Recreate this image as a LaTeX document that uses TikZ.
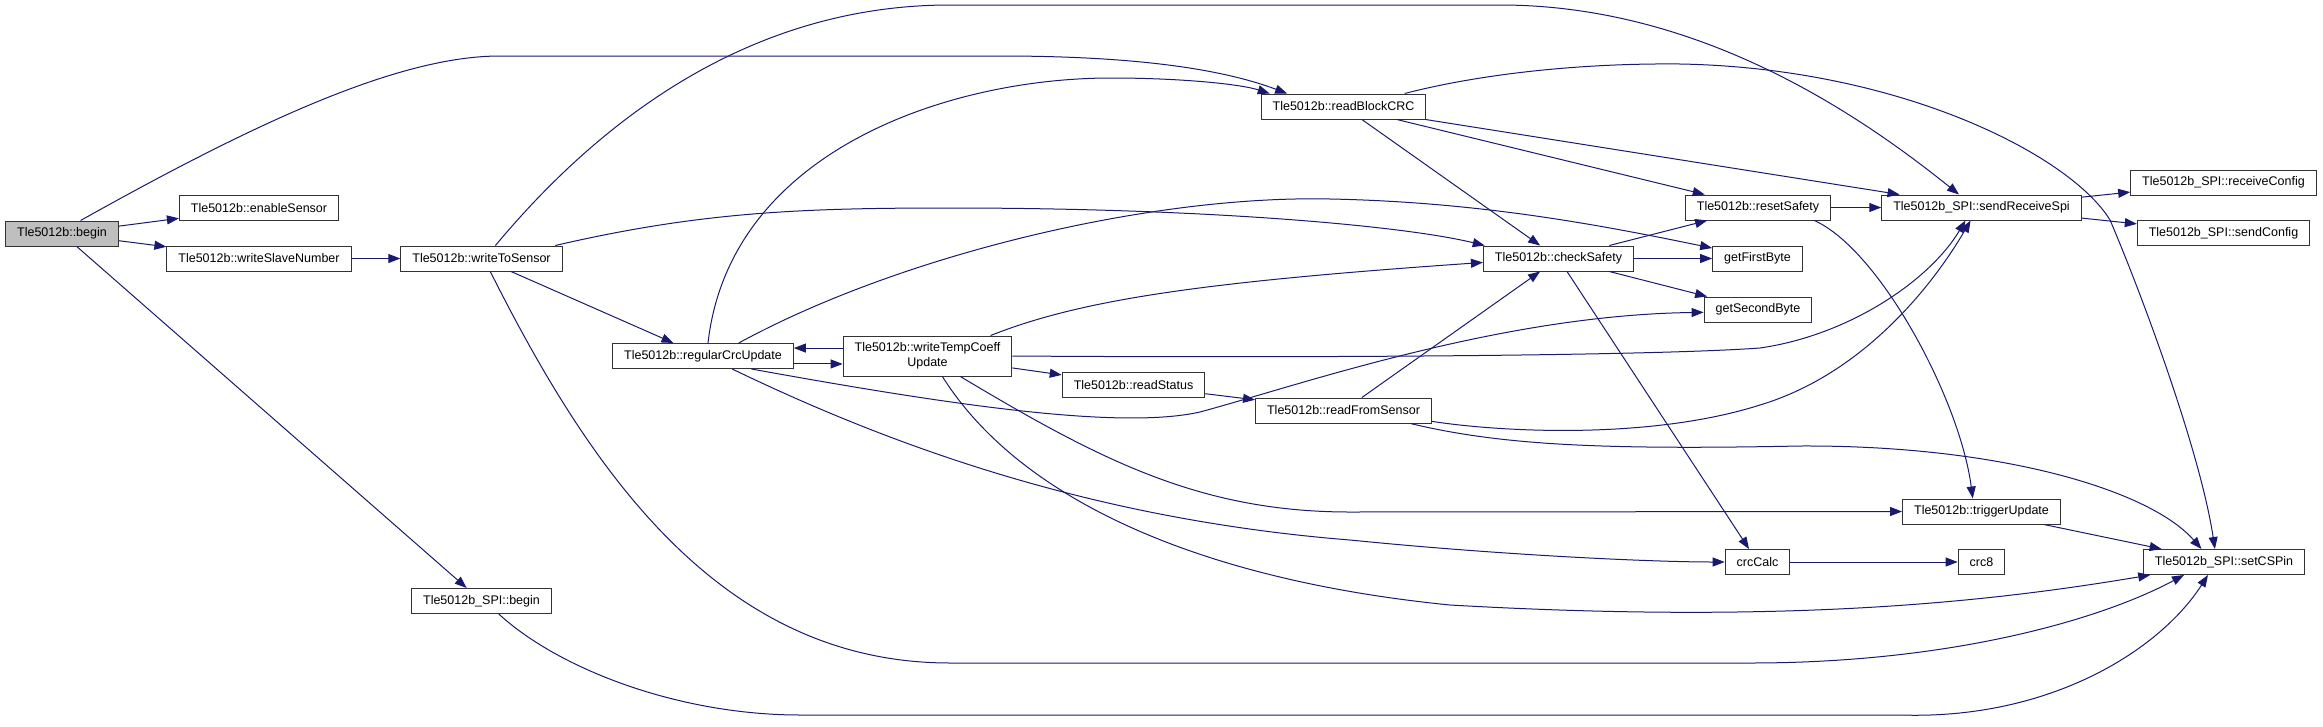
\documentclass[tikz,border=0pt]{standalone}
\usepackage{fontspec}
\setmainfont{Liberation Sans}
\usepackage{xcolor}
\usepackage{tikz}
\usetikzlibrary{arrows.meta}
\definecolor{edgeblue}{HTML}{191970}
\definecolor{framegray}{HTML}{333333}
\definecolor{rootgray}{HTML}{BFBFBF}

\begin{document}
\begin{tikzpicture}[
    x=1pt, y=-1pt,
    func/.style={rectangle, draw=framegray, fill=white, line width=1pt, align=center, minimum height=25pt, inner xsep=11.5pt, inner ysep=3pt, font=\fontsize{12.5}{15}\selectfont},
    rootfunc/.style={func, fill=rootgray},
    call/.style={-{Triangle[length=12pt, width=9pt]}, line width=1pt, color=edgeblue}
]
\useasboundingbox (0,0) rectangle (2323,726);

\node[rootfunc] (begin) at (62,233.5) {Tle5012b::begin};
\node[func] (enableSensor) at (259,208) {Tle5012b::enableSensor};
\node[func] (writeSlaveNumber) at (259,258.5) {Tle5012b::writeSlaveNumber};
\node[func] (writeToSensor) at (481.5,258.5) {Tle5012b::writeToSensor};
\node[func] (spiBegin) at (481.5,601) {Tle5012b\_SPI::begin};
\node[func] (regularCrcUpdate) at (703,356) {Tle5012b::regularCrcUpdate};
\node[func, minimum height=40pt] (writeTempCoeffUpdate) at (927.5,356) {\begin{tabular}{@{}c@{}}Tle5012b::writeTempCoeff\\Update\end{tabular}};
\node[func] (readStatus) at (1133.5,385) {Tle5012b::readStatus};
\node[func] (readFromSensor) at (1343.5,410.5) {Tle5012b::readFromSensor};
\node[func] (readBlockCRC) at (1343.5,106.5) {Tle5012b::readBlockCRC};
\node[func] (checkSafety) at (1558.5,258.5) {Tle5012b::checkSafety};
\node[func] (resetSafety) at (1758,207.5) {Tle5012b::resetSafety};
\node[func] (getFirstByte) at (1757.5,258.5) {getFirstByte};
\node[func] (getSecondByte) at (1758,309.5) {getSecondByte};
\node[func] (sendReceiveSpi) at (1981.5,207.5) {Tle5012b\_SPI::sendReceiveSpi};
\node[func] (receiveConfig) at (2223.5,182.5) {Tle5012b\_SPI::receiveConfig};
\node[func] (sendConfig) at (2223.5,233) {Tle5012b\_SPI::sendConfig};
\node[func] (triggerUpdate) at (1981.5,511.5) {Tle5012b::triggerUpdate};
\node[func] (crcCalc) at (1757.5,562) {crcCalc};
\node[func] (crc8) at (1981.5,562) {crc8};
\node[func] (setCSPin) at (2224,562) {Tle5012b\_SPI::setCSPin};

\draw[call] (begin) -- (enableSensor);
\draw[call] (begin) -- (writeSlaveNumber);
\draw[call] (begin.35) .. controls (260,120) and (400,56) .. (500,56) -- (1000,56) .. controls (1150,56) and (1230,72) .. (readBlockCRC.167);
\draw[call] (begin) -- (spiBegin);
\draw[call] (writeSlaveNumber) -- (writeToSensor);
\draw[call] (writeToSensor) -- (regularCrcUpdate);
\draw[call] (writeToSensor.10) .. controls (700,212) and (800,208) .. (950,208) .. controls (1200,208) and (1400,225) .. (checkSafety.170);
\draw[call] (writeToSensor.43) .. controls (600,120) and (750,5) .. (950,5) -- (1500,5) .. controls (1700,5) and (1860,115) .. (sendReceiveSpi.150);
\draw[call] (writeToSensor.304) .. controls (590,470) and (720,663) .. (950,663) -- (1750,663) .. controls (1950,663) and (2100,620) .. (setCSPin.198);
\draw[call] (spiBegin.323) .. controls (560,670) and (680,715) .. (800,715) -- (1900,715) .. controls (2050,720) and (2160,650) .. (setCSPin.219);
\draw[call] (readBlockCRC) -- (checkSafety);
\draw[call] (readBlockCRC) -- (resetSafety);
\draw[call] (readBlockCRC) -- (sendReceiveSpi);
\draw[call] (readBlockCRC.12) .. controls (1480,74) and (1580,63) .. (1680,64) .. controls (1900,68) and (2070,155) .. (2110,220) .. controls (2140,290) and (2200,450) .. (setCSPin.125);
\draw[call] (checkSafety) -- (resetSafety);
\draw[call] (checkSafety) -- (getFirstByte);
\draw[call] (checkSafety) -- (getSecondByte);
\draw[call] (checkSafety) -- (crcCalc);
\draw[call] (resetSafety) -- (sendReceiveSpi);
\draw[call] (resetSafety.347) .. controls (1880,250) and (1960,400) .. (triggerUpdate.124);
\draw[call] (sendReceiveSpi) -- (receiveConfig);
\draw[call] (sendReceiveSpi) -- (sendConfig);
\draw[call] (regularCrcUpdate.69) .. controls (730,150) and (950,78) .. (1111,78) .. controls (1180,78) and (1240,84) .. (readBlockCRC.170);
\draw[call] (regularCrcUpdate.-5) -- (regularCrcUpdate.-5 -| writeTempCoeffUpdate.west);
\draw[call] (regularCrcUpdate.20) .. controls (900,255) and (1150,195) .. (1330,199) .. controls (1480,202) and (1600,225) .. (getFirstByte.167);
\draw[call] (regularCrcUpdate.345) .. controls (950,405) and (1120,430) .. (1200,412) .. controls (1300,385) and (1500,315) .. (getSecondByte.183);
\draw[call] (regularCrcUpdate.336) .. controls (900,450) and (1100,520) .. (1350,540) .. controls (1500,555) and (1650,562) .. (crcCalc.west);
\draw[call] (writeTempCoeffUpdate.west |- regularCrcUpdate.5) -- (regularCrcUpdate.5);
\draw[call] (writeTempCoeffUpdate) -- (readStatus);
\draw[call] (writeTempCoeffUpdate.18) .. controls (1080,300) and (1200,282) .. (checkSafety.183);
\draw[call] (writeTempCoeffUpdate.east) .. controls (1300,358) and (1650,356) .. (1760,348) .. controls (1850,335) and (1930,280) .. (sendReceiveSpi.219);
\draw[call] (writeTempCoeffUpdate.-32) .. controls (1100,460) and (1200,512) .. (1350,512) -- (triggerUpdate.west);
\draw[call] (writeTempCoeffUpdate.306) .. controls (1020,500) and (1200,580) .. (1450,605) .. controls (1800,625) and (2000,600) .. (setCSPin.190);
\draw[call] (readStatus) -- (readFromSensor);
\draw[call] (readFromSensor) -- (checkSafety);
\draw[call] (readFromSensor.-7) .. controls (1500,432) and (1650,440) .. (1760,405) .. controls (1860,375) and (1930,290) .. (sendReceiveSpi.230);
\draw[call] (readFromSensor.349) .. controls (1500,445) and (1600,450) .. (1800,446) .. controls (2000,445) and (2150,490) .. (setCSPin.150);
\draw[call] (triggerUpdate) -- (setCSPin);
\draw[call] (crcCalc) -- (crc8);
\end{tikzpicture}
\end{document}
